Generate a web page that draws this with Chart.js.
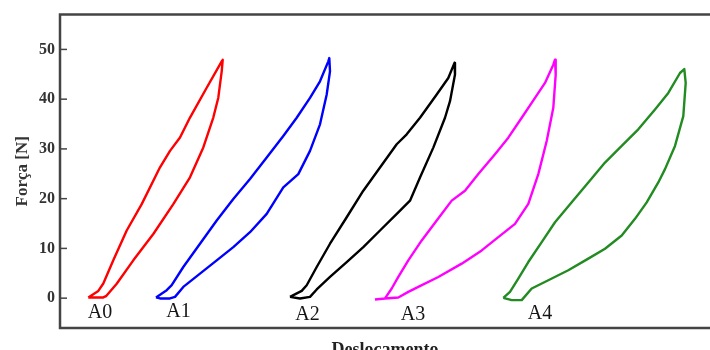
<!DOCTYPE html>
<html>
<head>
<meta charset="utf-8">
<script src="https://cdn.jsdelivr.net/npm/chart.js@4/dist/chart.umd.min.js"></script>
<style>
  html, body { margin: 0; padding: 0; background: #fff; }
</style>
</head>
<body>
<canvas id="ciclos" width="710" height="350"></canvas>
<script>
'use strict';

// Ciclos de carga / descarga: deslocamento (x) e força [N] (y), um laço por amostra
const a0Desloc = [2.73, 3.73, 4.23, 5.23, 6.57, 8.07, 9.9, 10.9, 11.9, 12.9, 14.57, 16.07, 16.17,
  16.07, 15.73, 15.23, 14.23, 12.9, 11.23, 9.23, 7.23, 5.57, 4.5, 4.23, 3.4, 2.73];
const a0Forca = [0.14, 1.46, 2.94, 7.6, 13.6, 18.9, 26.3, 29.6, 32.3, 36.3, 42.3, 47.6, 47.9,
  45.6, 40.3, 36.3, 30.3, 24.3, 18.9, 12.9, 7.6, 2.9, 0.4, 0.14, 0.14, 0.14];

const a1Desloc = [9.5, 10.57, 11.07, 12.23, 13.9, 15.57, 17.23, 18.9, 20.57, 22.23, 23.57, 24.9, 25.9, 26.73, 26.83,
  26.9, 26.57, 25.9, 24.9, 23.73, 22.23, 20.57, 18.9, 17.23, 15.57, 13.9, 12.23, 11.4, 10.9, 9.9, 9.5];
const a1Forca = [0.14, 1.6, 2.6, 6.26, 10.94, 15.6, 19.94, 23.94, 28.26, 32.6, 36.26, 40.26, 43.6, 47.6, 48.26,
  45.6, 40.94, 34.94, 29.6, 24.94, 22.26, 16.94, 13.26, 10.26, 7.6, 4.94, 2.26, 0.26, -0.06, -0.06, 0.14];

const a2Desloc = [22.9, 24.07, 24.57, 25.57, 26.9, 28.57, 30.23, 31.9, 33.57, 34.57, 35.9, 37.57, 38.73, 39.35,
  39.4, 38.9, 38.4, 37.23, 35.9, 34.9, 33.73, 31.9, 30.23, 28.57, 26.9, 25.57, 24.9, 23.9, 22.9];
const a2Forca = [0.26, 1.46, 2.6, 6.26, 10.94, 16.26, 21.6, 26.26, 30.94, 32.94, 36.26, 40.94, 44.26, 47.3,
  44.94, 39.6, 36.26, 30.26, 24.26, 19.6, 17.26, 13.6, 10.26, 7.26, 4.26, 1.74, 0.26, -0.06, 0.26];

const a3Desloc = [31.4, 32.4, 33.07, 33.73, 34.73, 36.07, 37.57, 39.07, 40.4, 41.73, 43.4, 44.73, 46.07, 47.4, 48.4, 49.23, 49.4,
  49.47, 49.23, 48.57, 47.73, 46.73, 45.4, 43.73, 42.07, 40.07, 37.73, 35.73, 34.73, 33.73, 32.4, 31.4];
const a3Forca = [-0.26, -0.06, 1.94, 4.26, 7.6, 11.6, 15.6, 19.6, 21.6, 24.94, 28.94, 32.26, 36.26, 40.26, 43.26, 46.94, 47.94,
  44.94, 38.26, 31.6, 24.94, 18.94, 14.94, 12.26, 9.6, 6.94, 4.26, 2.26, 1.26, 0.14, -0.06, -0.26];

const a4Desloc = [44.23, 44.9, 45.73, 46.73, 48.07, 49.4, 51.07, 52.73, 54.4, 56.07, 57.73, 59.4, 60.73, 61.9, 62.33,
  62.47, 62.23, 61.4, 60.4, 59.73, 58.57, 57.4, 56.07, 54.4, 52.73, 50.73, 48.73, 47.07, 46.07, 45.07, 44.23];
const a4Forca = [0.06, 1.26, 3.94, 7.26, 11.26, 15.26, 19.26, 23.26, 27.26, 30.6, 33.94, 37.94, 41.26, 45.26, 46.06,
  43.26, 36.6, 30.6, 25.94, 23.26, 19.26, 15.94, 12.6, 9.94, 7.94, 5.6, 3.6, 1.94, -0.4, -0.4, 0.06];

const amostras = ['A0', 'A1', 'A2', 'A3', 'A4'];
const cores = ['#ff0000', '#0000ff', '#000000', '#ff00ff', '#228b22'];
// posição dos rótulos das amostras (em unidades dos eixos)
const rotuloDesloc = [3.9, 11.75, 24.65, 35.2, 47.9];
const rotuloForca = [-3.0, -2.8, -3.4, -3.3, -3.1];
const forcaTicks = [0, 10, 20, 30, 40, 50];

const serif = "'Liberation Serif', 'Times New Roman', serif";
const ciclos = [[a0Desloc, a0Forca], [a1Desloc, a1Forca], [a2Desloc, a2Forca], [a3Desloc, a3Forca], [a4Desloc, a4Forca]];

const toPts = (xs, ys) => xs.map((x, i) => ({ x, y: ys[i] }));

// moldura do gráfico + marcas dos ticks voltadas para dentro
const moldura = {
  id: 'moldura',
  afterDraw(chart) {
    const { ctx, chartArea: a, scales } = chart;
    ctx.save();
    ctx.strokeStyle = '#444';
    ctx.lineWidth = 2.5;
    ctx.beginPath();
    ctx.moveTo(a.right + 5, a.top);
    ctx.lineTo(a.left, a.top);
    ctx.lineTo(a.left, a.bottom);
    ctx.lineTo(a.right + 5, a.bottom);
    ctx.stroke();
    ctx.lineWidth = 1.5;
    forcaTicks.forEach(v => {
      const y = scales.y.getPixelForValue(v);
      ctx.beginPath();
      ctx.moveTo(a.left, y);
      ctx.lineTo(a.left + 7, y);
      ctx.stroke();
    });
    ctx.restore();
  }
};

// rótulos A0..A4 sob cada laço
const rotulos = {
  id: 'rotulos',
  afterDraw(chart) {
    const { ctx, scales } = chart;
    ctx.save();
    ctx.font = '20px ' + serif;
    ctx.fillStyle = '#151515';
    ctx.textAlign = 'center';
    ctx.textBaseline = 'middle';
    amostras.forEach((t, i) => {
      ctx.fillText(t, scales.x.getPixelForValue(rotuloDesloc[i]), scales.y.getPixelForValue(rotuloForca[i]));
    });
    ctx.restore();
  }
};

new Chart(document.getElementById('ciclos').getContext('2d'), {
  type: 'line',
  data: {
    datasets: ciclos.map(([xs, ys], i) => ({
      label: amostras[i],
      data: toPts(xs, ys),
      borderColor: cores[i],
      borderWidth: 2.4,
      borderJoinStyle: 'round',
      pointRadius: 0,
      tension: 0,
      fill: false
    }))
  },
  options: {
    responsive: false,
    animation: false,
    layout: { padding: { top: 13, left: 0, right: 0, bottom: 0 } },
    plugins: { legend: { display: false }, tooltip: { enabled: false } },
    scales: {
      x: {
        type: 'linear',
        min: -0.1,
        max: 64.9,
        grid: { display: false, drawTicks: false },
        border: { display: false },
        ticks: { display: false },
        title: {
          display: true,
          text: 'Deslocamento',
          color: '#222',
          font: { family: serif, size: 18, weight: 'bold' },
          padding: { top: 0, bottom: -11 }
        },
        afterFit(s) { s.height = 22; }
      },
      y: {
        min: -6,
        max: 57,
        afterBuildTicks(s) { s.ticks = forcaTicks.map(v => ({ value: v })); },
        grid: { display: false, drawTicks: false },
        border: { display: false },
        ticks: {
          color: '#333',
          padding: 5,
          font: { family: serif, size: 16, weight: 'bold' }
        },
        title: {
          display: true,
          text: 'Força [N]',
          color: '#333',
          font: { family: serif, size: 17, weight: 'bold' },
          padding: { top: 12, bottom: 0 }
        },
        afterFit(s) { s.width = 60; }
      }
    }
  },
  plugins: [moldura, rotulos]
});
</script>
</body>
</html>
